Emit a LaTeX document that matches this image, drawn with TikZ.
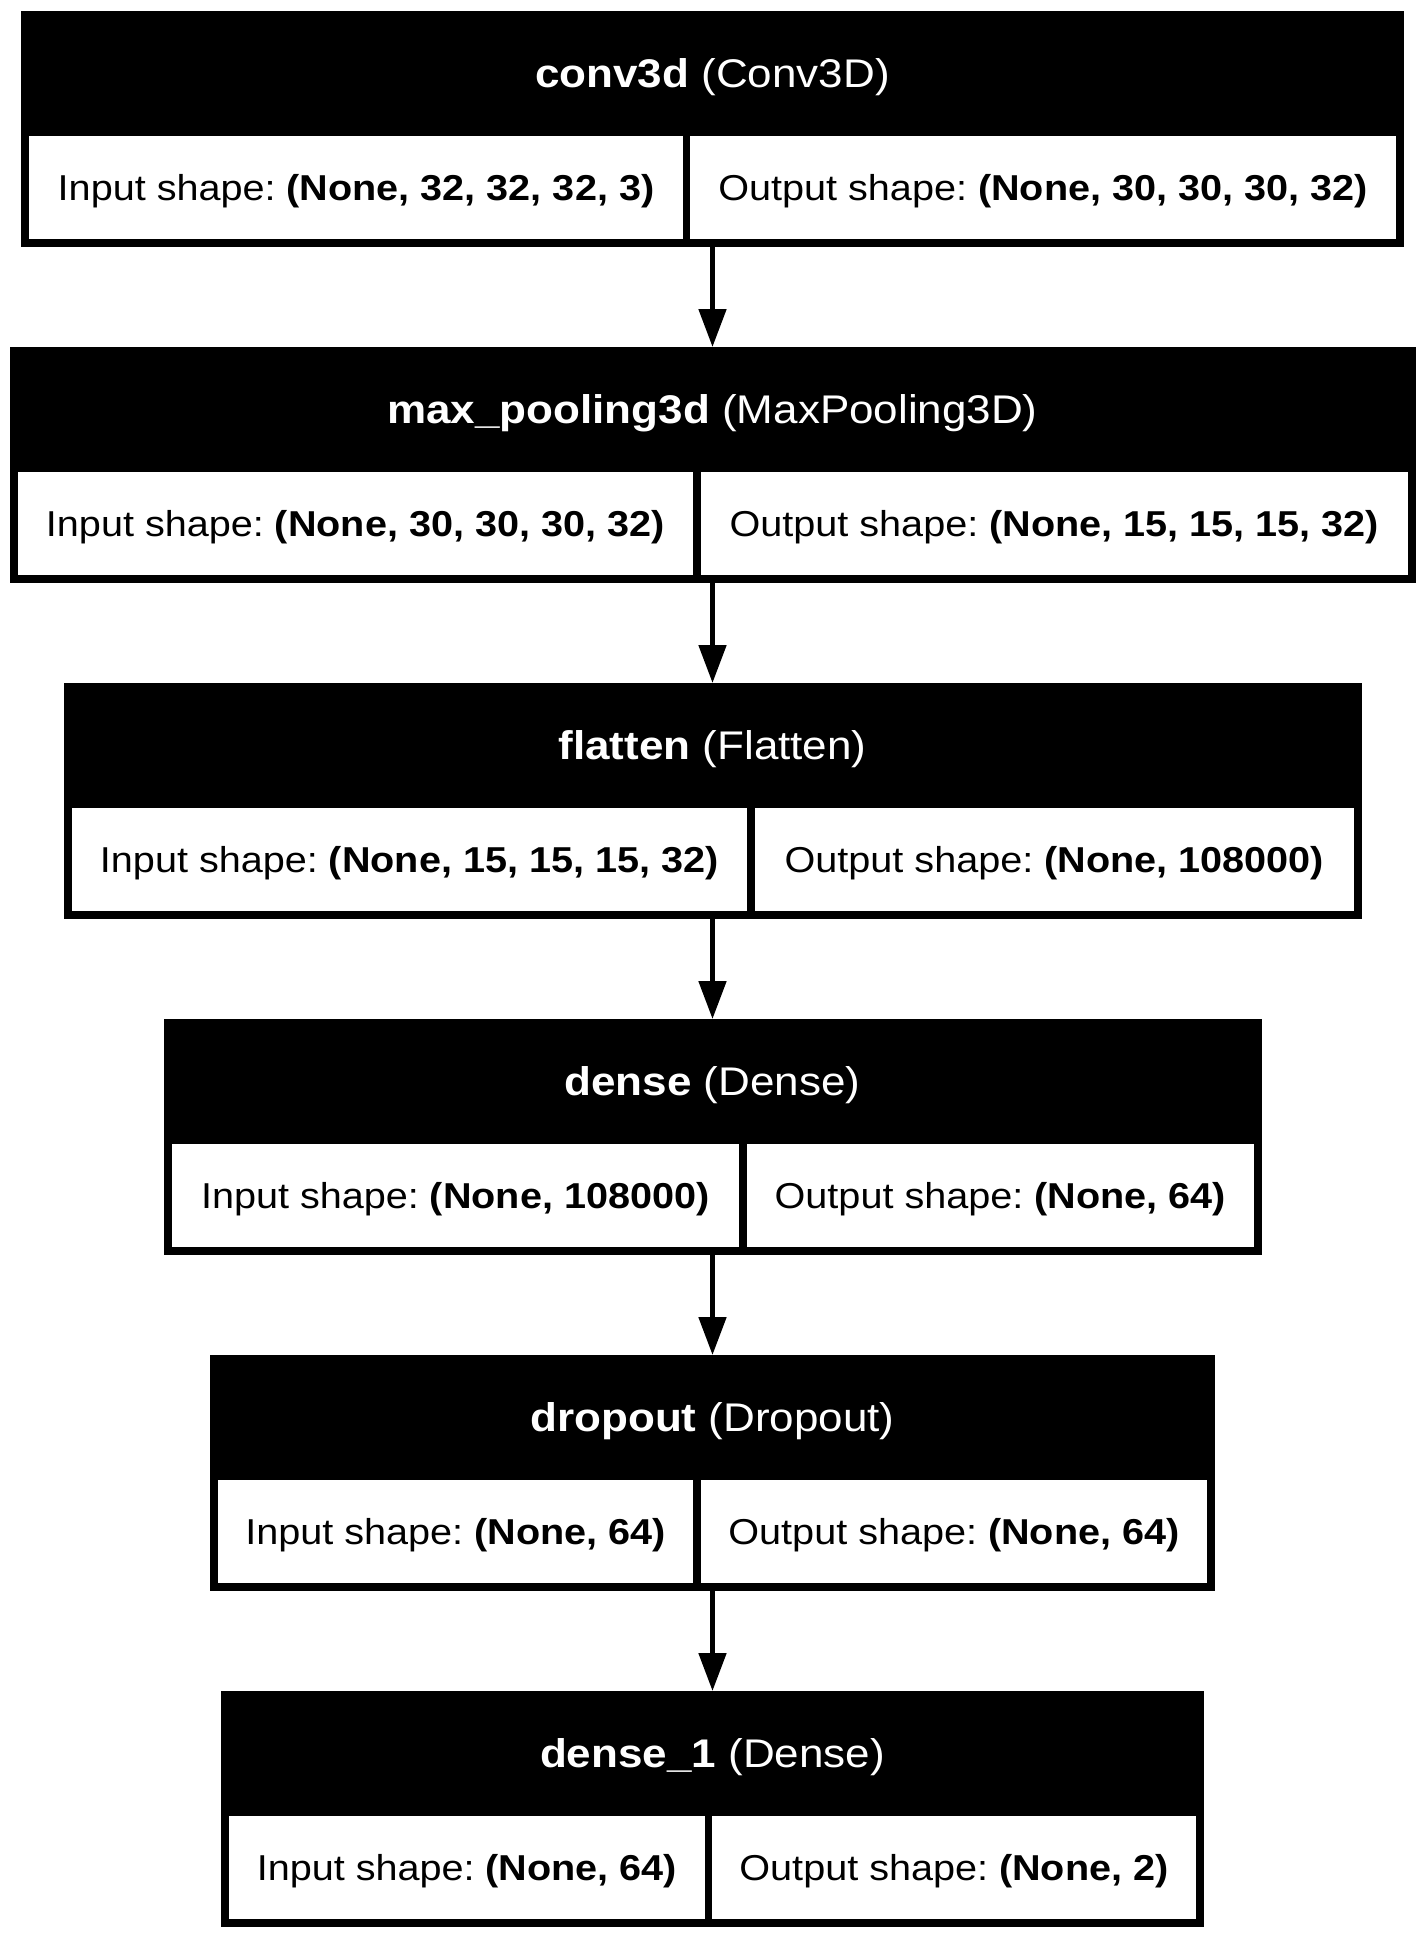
\documentclass[tikz,border=0pt]{standalone}
\usepackage{fontspec}
\setmainfont{Liberation Sans}[FakeStretch=1.1]
\usetikzlibrary{arrows.meta,positioning}
\frenchspacing

\begin{document}
\begin{tikzpicture}[x=1pt,y=-1pt,
    layer/.style={fill=black, inner sep=0pt, outer sep=0pt, minimum height=236pt, anchor=north},
    title/.style={text=white, inner sep=0pt, font=\fontsize{40}{48}\selectfont, text height=28.6pt, text depth=0pt},
    cell/.style={fill=white, inner sep=0pt, outer sep=0pt, minimum height=103pt, font=\fontsize{36}{43}\selectfont, text height=25.8pt, text depth=0pt},
    flow/.style={-{Triangle[length=38pt,width=27pt]}, line width=5pt}]

  \useasboundingbox (0,0) rectangle (1425,1939);

  % conv3d layer
  \node[layer, minimum width=1383pt] (conv) at (712.5,11) {};
  \node[title] (convT) at ([yshift=-62.5pt]conv.north) {\textbf{conv3d} (Conv3D)};
  \node[cell, anchor=north west, minimum width=654pt] (convIn) at ([xshift=8pt,yshift=-125pt]conv.north west) {Input shape: \textbf{(None, 32, 32, 32, 3)}};
  \node[cell, anchor=north east, minimum width=706pt] (convOut) at ([xshift=-8pt,yshift=-125pt]conv.north east) {Output shape: \textbf{(None, 30, 30, 30, 32)}};

  % max pooling layer
  \node[layer, minimum width=1406pt, below=100pt of conv] (pool) {};
  \node[title] (poolT) at ([yshift=-62.5pt]pool.north) {\textbf{max\_pooling3d} (MaxPooling3D)};
  \node[cell, anchor=north west, minimum width=675.5pt] (poolIn) at ([xshift=8pt,yshift=-125pt]pool.north west) {Input shape: \textbf{(None, 30, 30, 30, 32)}};
  \node[cell, anchor=north east, minimum width=706.5pt] (poolOut) at ([xshift=-8pt,yshift=-125pt]pool.north east) {Output shape: \textbf{(None, 15, 15, 15, 32)}};

  % flatten layer
  \node[layer, minimum width=1298pt, below=100pt of pool] (flat) {};
  \node[title] (flatT) at ([yshift=-62.5pt]flat.north) {\textbf{flatten} (Flatten)};
  \node[cell, anchor=north west, minimum width=675.5pt] (flatIn) at ([xshift=8pt,yshift=-125pt]flat.north west) {Input shape: \textbf{(None, 15, 15, 15, 32)}};
  \node[cell, anchor=north east, minimum width=598.5pt] (flatOut) at ([xshift=-8pt,yshift=-125pt]flat.north east) {Output shape: \textbf{(None, 108000)}};

  % dense layer
  \node[layer, minimum width=1098pt, below=100pt of flat] (dense) {};
  \node[title] (denseT) at ([yshift=-62.5pt]dense.north) {\textbf{dense} (Dense)};
  \node[cell, anchor=north west, minimum width=567.5pt] (denseIn) at ([xshift=8pt,yshift=-125pt]dense.north west) {Input shape: \textbf{(None, 108000)}};
  \node[cell, anchor=north east, minimum width=506.5pt] (denseOut) at ([xshift=-8pt,yshift=-125pt]dense.north east) {Output shape: \textbf{(None, 64)}};

  % dropout layer
  \node[layer, minimum width=1005pt, below=100pt of dense] (drop) {};
  \node[title] (dropT) at ([yshift=-62.5pt]drop.north) {\textbf{dropout} (Dropout)};
  \node[cell, anchor=north west, minimum width=475pt] (dropIn) at ([xshift=8pt,yshift=-125pt]drop.north west) {Input shape: \textbf{(None, 64)}};
  \node[cell, anchor=north east, minimum width=506pt] (dropOut) at ([xshift=-8pt,yshift=-125pt]drop.north east) {Output shape: \textbf{(None, 64)}};

  % output dense layer
  \node[layer, minimum width=983pt, below=100pt of drop] (out) {};
  \node[title] (outT) at ([yshift=-62.5pt]out.north) {\textbf{dense\_1} (Dense)};
  \node[cell, anchor=north west, minimum width=476pt] (outIn) at ([xshift=8pt,yshift=-125pt]out.north west) {Input shape: \textbf{(None, 64)}};
  \node[cell, anchor=north east, minimum width=484pt] (outOut) at ([xshift=-8pt,yshift=-125pt]out.north east) {Output shape: \textbf{(None, 2)}};

  % connections
  \draw[flow] (conv) -- (pool);
  \draw[flow] (pool) -- (flat);
  \draw[flow] (flat) -- (dense);
  \draw[flow] (dense) -- (drop);
  \draw[flow] (drop) -- (out);
\end{tikzpicture}
\end{document}
